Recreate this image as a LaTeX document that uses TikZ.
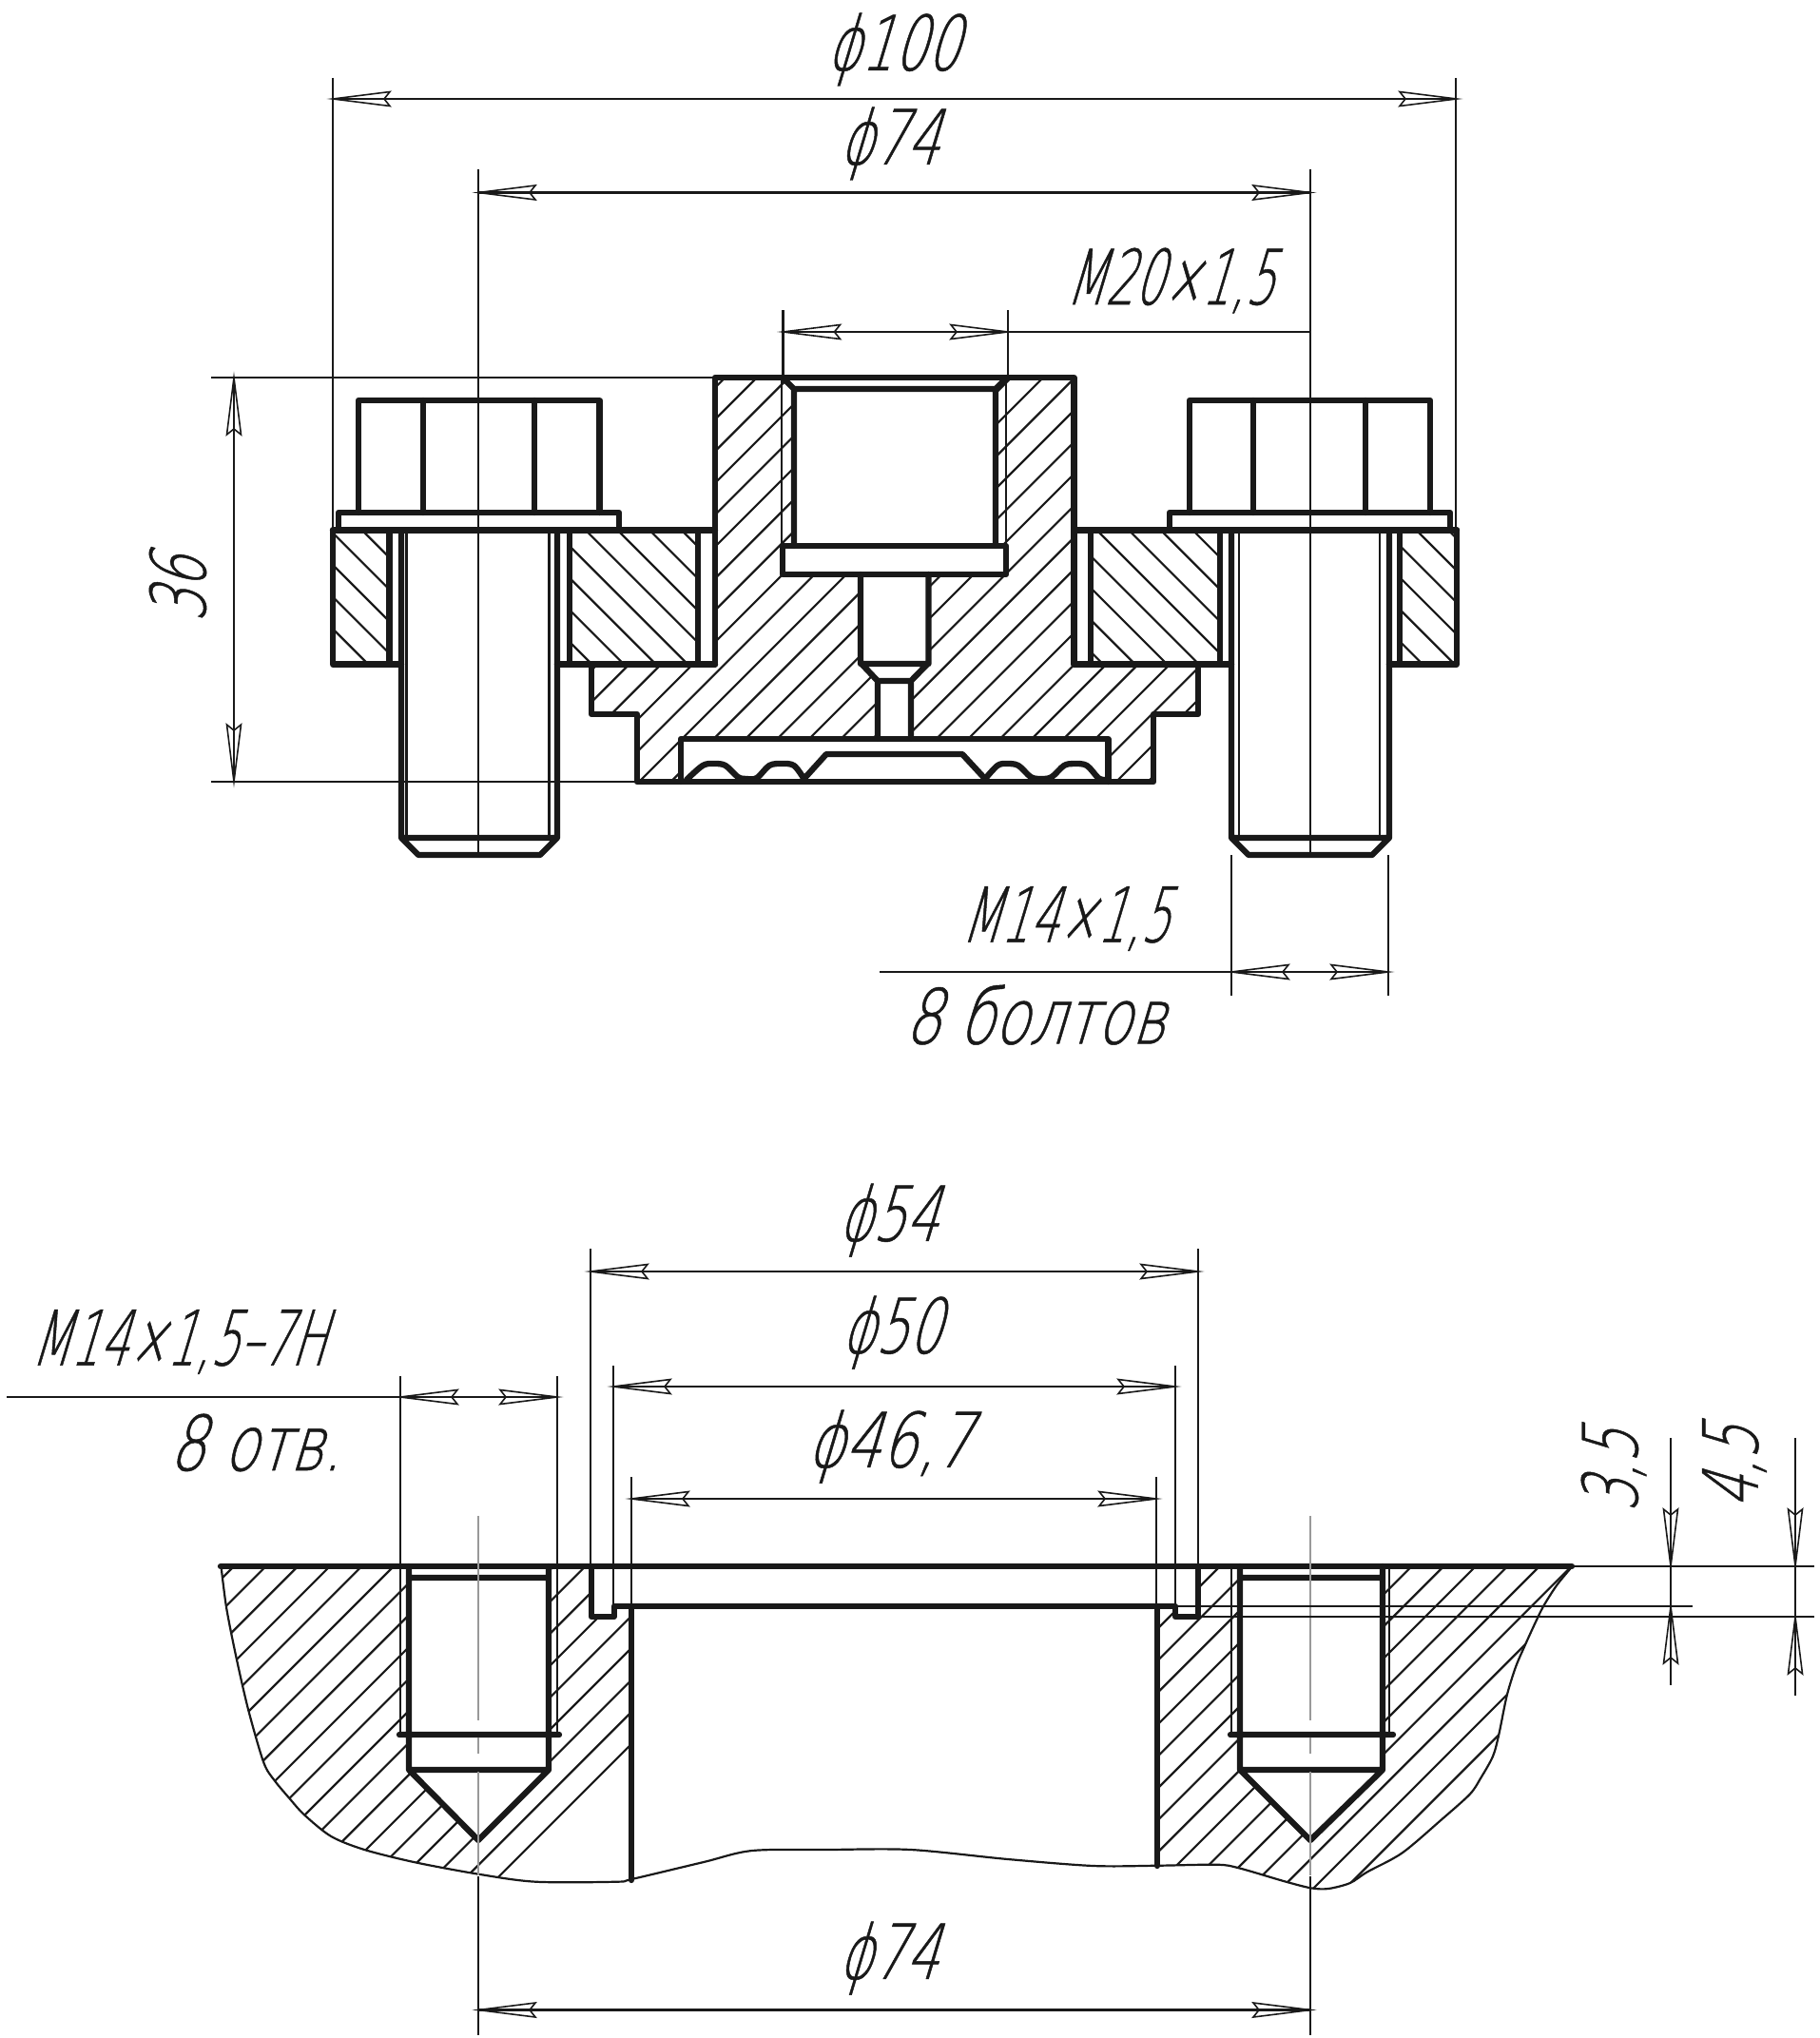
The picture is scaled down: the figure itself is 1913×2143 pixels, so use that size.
\documentclass[tikz,border=0pt]{standalone}
\usepackage{fontspec}
\newfontfamily\gost[FakeSlant=0.3,FakeStretch=0.68,FakeBold=0.6]{DejaVu Sans ExtraLight}
\newfontfamily\gostn[FakeSlant=0.3,FakeStretch=0.6,FakeBold=0.6]{DejaVu Sans ExtraLight}
\newfontfamily\gostw[FakeSlant=0.3,FakeStretch=0.75,FakeBold=0.6]{DejaVu Sans ExtraLight}
\newcommand{\hatchup}[4]{\foreach \k in {#2,...,#3}{\pgfmathsetmacro\cc{#1+#4*\k}\draw[hatchline] (0,\cc) -- (\cc,0);}}
\newcommand{\hatchdown}[3]{\foreach \k in {#2,...,#3}{\pgfmathsetmacro\cc{#1+33.6*\k}\draw[hatchline] (0,\cc) -- (2000,\cc+2000);}}
\newcommand{\dimtip}[3]{\begin{scope}[shift={(#1,#2)},rotate=#3]\draw[tipline] (0,0) -- (60,7.5) -- (54,0) -- (60,-7.5) -- cycle;\end{scope}}
\tikzset{
 bold/.style={line width=6.3pt,line join=round,line cap=round,black!90},
 thinl/.style={line width=2.4pt,black!90},
 hatchline/.style={line width=2.2pt,black!90},
 tipline/.style={line width=1.6pt,black!90,line join=miter},
 axisg/.style={line width=2.2pt,black!40},
 brk/.style={line width=2.2pt,black!90},
 dimtext/.style={font=\gost\fontsize{80}{80}\selectfont,inner sep=0pt,black!90},
 dimtextn/.style={font=\gostn\fontsize{80}{80}\selectfont,inner sep=0pt,black!90},
 dimtextw/.style={font=\gostw\fontsize{80}{80}\selectfont,inner sep=0pt,black!90},
}
\begin{document}
\begin{tikzpicture}[x=1pt,y=-1pt]
\path[use as bounding box] (0,0) rectangle (1913,2143);
% --- upper hatching
\begin{scope}
\clip (752,397)--(823,397)--(835,409)--(835,574)--(823,574)--(823,604)--(905,604)--(905,697)--(923,716)--(923,777)--(716,777)--(716,822)--(670,822)--(670,751)--(622,751)--(622,698.6)--(752,698.6)--cycle
 (1129.5,397)--(1059,397)--(1047,409)--(1047,574)--(1058,574)--(1058,604)--(976.5,604)--(976.5,697)--(958,716)--(958,777)--(1165.5,777)--(1165.5,822)--(1213,822)--(1213,751)--(1260,751)--(1260,698.6)--(1129.5,698.6)--cycle;
\hatchup{1193}{-2}{25}{33.45}
\end{scope}
\begin{scope}
\clip (350,557.5) rectangle (409.6,698.6) (598.7,557.5) rectangle (734,698.6) (1147,557.5) rectangle (1283,698.6) (1472,557.5) rectangle (1532,698.6);
\hatchdown{8.8}{-40}{12}
\end{scope}
% --- upper bold outline
\draw[bold] (752,698.6)--(752,397)--(1129.5,397)--(1129.5,698.6);
\draw[bold] (622,698.6)--(622,751)--(670,751)--(670,822)--(1213,822)--(1213,751)--(1260,751)--(1260,698.6);
\draw[bold] (350,557.5)--(752,557.5) (1129.5,557.5)--(1532,557.5);
\draw[bold] (409.6,557.5)--(409.6,698.6) (598.7,557.5)--(598.7,698.6) (734,557.5)--(734,698.6);
\draw[bold] (1147,557.5)--(1147,698.6) (1283,557.5)--(1283,698.6) (1472,557.5)--(1472,698.6);
\draw[bold] (350,557.5)--(350,698.6)--(422,698.6) (586,698.6)--(752,698.6) (1129.5,698.6)--(1295,698.6) (1461,698.6)--(1532,698.6)--(1532,557.5);
% left bolt
\draw[bold] (422,557.5)--(422,881)--(440,899)--(568,899)--(586,881)--(586,557.5) (422,881)--(586,881);
\draw[thinl] (427.4,557.5)--(427.4,881) (577.5,557.5)--(577.5,881);
\draw[bold] (356,557.5)--(356,539)--(651,539)--(651,557.5) (377,539)--(377,421)--(630.6,421)--(630.6,539) (445,421)--(445,539) (562,421)--(562,539);
% right bolt
\draw[bold] (1295,557.5)--(1295,881)--(1313,899)--(1443,899)--(1461,881)--(1461,557.5) (1295,881)--(1461,881);
\draw[thinl] (1303,557.5)--(1303,881) (1451,557.5)--(1451,881);
\draw[bold] (1230,557.5)--(1230,539)--(1525,539)--(1525,557.5) (1250.7,539)--(1250.7,421)--(1504,421)--(1504,539) (1318,421)--(1318,539) (1436,421)--(1436,539);
% threaded hole
\draw[bold] (823,397)--(835,409)--(835,574) (1059,397)--(1047,409)--(1047,574) (835,409)--(1047,409);
\draw[bold] (823,574) rectangle (1058,604);
\draw[thinl] (822,397)--(822,574) (1058,397)--(1058,574);
\draw[bold] (905,604)--(905,697)--(923,716)--(923,777) (976.5,604)--(976.5,697)--(958,716)--(958,777) (905,698)--(976.5,698) (923,716)--(958,716);
% cavity
\draw[bold] (716,822)--(716,777)--(1165.5,777)--(1165.5,822);
\draw[bold] plot[smooth,tension=.55] coordinates {(722,820)(739,805)(751,803)(763,805)(776,817)(785,819)(796,818)(809,805)(822,803)(835,805)(845.5,819)};
\draw[bold] (845.5,819)--(869,793)--(1012,793)--(1036,819);
\draw[bold] plot[smooth,tension=.55] coordinates {(1036,819)(1049,805)(1059,803)(1071,805)(1084,817)(1095,819)(1106,817)(1119,805)(1130,803)(1143,805)(1155,818)(1162,820)};
% upper thin dimension lines
\draw[thinl] (350,82)--(350,557) (1531,82)--(1531,557) (503,178)--(503,899) (1378,178)--(1378,899);
\draw[thinl] (350,104)--(1532,104) (503,202.5)--(1378,202.5);
\draw[thinl] (823.5,326)--(823.5,397) (1060,326)--(1060,397) (823.5,349)--(1378,349);
\draw[thinl] (222,397)--(752,397) (222,822)--(670,822) (246,397)--(246,822);
\draw[thinl] (1295,899)--(1295,1047) (1460,899)--(1460,1047) (925,1022)--(1460,1022);
\dimtip{350}{104}{0}\dimtip{1532}{104}{180}
\dimtip{503}{202.5}{0}\dimtip{1378}{202.5}{180}
\dimtip{823.5}{349}{0}\dimtip{1060}{349}{180}
\dimtip{246}{397}{-90}\dimtip{246}{822}{90}
\dimtip{1295}{1022}{0}\dimtip{1460}{1022}{180}
% --- lower hatching
\begin{scope}
\clip (232,1647)--(621.7,1647)--(621.7,1700)--(645.7,1700)--(645.7,1689)--(664,1689)--(664,1976)
 -- plot[smooth,tension=.5] coordinates {(664.3,1976)(648.3,1978.7)(563.3,1978.7)(503.3,1970.7)(436.7,1958.3)(383.3,1945)(348.3,1931)(320,1908.3)(305,1891.7)(288.3,1871.7)(277.3,1853.3)(261.7,1800)(249.3,1746.7)(238.3,1691.7)(232.7,1648.3)}--cycle;
\hatchup{1893}{-2}{18}{33.6}
\end{scope}
\begin{scope}
\clip (1260,1647)--(1653,1647)
 -- plot[smooth,tension=.5] coordinates {(1652.4,1648.3)(1637.3,1666.7)(1623.5,1688.3)(1614.4,1706.7)(1603,1731.7)(1593.8,1753.3)(1584.6,1783.3)(1576.4,1823.3)(1570,1846.7)(1557,1870)(1545.7,1886.7)(1516,1913.3)(1474.7,1948.3)(1438,1968.3)(1419.8,1980)(1396.9,1986)(1378.6,1985.3)(1351,1978.3)(1303,1964.3)(1280,1960.7)(1218.3,1961.7)}
 --(1217,1689)--(1236,1689)--(1236,1700)--(1260,1700)--cycle;
\hatchup{2930}{-3}{17}{33.6}
\end{scope}
\fill[white] (430,1647)--(577,1647)--(577,1861)--(503,1935)--(430,1861)--cycle;
\fill[white] (1304,1647)--(1454,1647)--(1454,1861)--(1378,1935)--(1304,1861)--cycle;
% break curves
\draw[brk] plot[smooth,tension=.5] coordinates {(232.7,1648.3)(238.3,1691.7)(249.3,1746.7)(261.7,1800)(277.3,1853.3)(288.3,1871.7)(305,1891.7)(320,1908.3)(348.3,1931)(383.3,1945)(436.7,1958.3)(503.3,1970.7)(563.3,1978.7)(648.3,1978.7)(664.3,1976)(740,1958)(791,1946)(870,1945)(958,1945)(1060,1955)(1150,1962)(1218.3,1961.7)(1280,1960.7)(1303,1964.3)(1351,1978.3)(1378.6,1985.3)(1396.9,1986)(1419.8,1980)(1438,1968.3)(1474.7,1948.3)(1516,1913.3)(1545.7,1886.7)(1557,1870)(1570,1846.7)(1576.4,1823.3)(1584.6,1783.3)(1593.8,1753.3)(1603,1731.7)(1614.4,1706.7)(1623.5,1688.3)(1637.3,1666.7)(1652.4,1648.3)};
% lower bold outline
\draw[bold] (232,1647)--(1653,1647);
\draw[bold] (621.7,1647)--(621.7,1700)--(645.7,1700)--(645.7,1689)--(1236,1689)--(1236,1700)--(1260,1700)--(1260,1647);
\draw[bold] (664,1689)--(664,1977) (1217,1689)--(1217,1962);
\draw[bold] (430,1647)--(430,1861)--(503,1935)--(577,1861)--(577,1647) (430,1659)--(577,1659) (430,1861)--(577,1861) (420,1824)--(588,1824);
\draw[bold] (1304,1647)--(1304,1861)--(1378,1935)--(1454,1861)--(1454,1647) (1304,1659)--(1454,1659) (1304,1861)--(1454,1861) (1294,1824)--(1465,1824);
\draw[thinl] (421,1447)--(421,1824) (586,1447)--(586,1824) (1295,1647)--(1295,1824) (1461,1647)--(1461,1824);
% gray axes
\draw[axisg] (503,1594)--(503,1809) (503,1827)--(503,1844) (503,1863)--(503,1972);
\draw[axisg] (1378,1594)--(1378,1809) (1378,1827)--(1378,1844) (1378,1863)--(1378,1972);
% lower dimension lines
\draw[thinl] (621,1313)--(621,1647) (1260,1313)--(1260,1647) (621,1337)--(1260,1337);
\draw[thinl] (645,1436)--(645,1689) (1236,1436)--(1236,1689) (645,1458)--(1236,1458);
\draw[thinl] (664,1553)--(664,1689) (1216,1553)--(1216,1689) (664,1576)--(1216,1576);
\draw[thinl] (7,1469)--(586,1469);
\draw[thinl] (503,1973)--(503,2140) (1378,1973)--(1378,2140) (503,2113.5)--(1378,2113.5);
\draw[thinl] (1653,1647)--(1908,1647) (1236,1689)--(1780,1689) (1260,1700)--(1908,1700);
\draw[thinl] (1757,1512)--(1757,1772) (1888,1512)--(1888,1783);
\dimtip{621}{1337}{0}\dimtip{1260}{1337}{180}
\dimtip{645}{1458}{0}\dimtip{1236}{1458}{180}
\dimtip{664}{1576}{0}\dimtip{1216}{1576}{180}
\dimtip{421}{1469}{0}\dimtip{586}{1469}{180}
\dimtip{503}{2113.5}{0}\dimtip{1378}{2113.5}{180}
\dimtip{1757}{1647}{90}\dimtip{1757}{1689}{-90}
\dimtip{1888}{1647}{90}\dimtip{1888}{1700}{-90}
% texts
\node[dimtext] (t100) at (939,52) {ϕ100};
\node[dimtext] (t74a) at (935,151) {ϕ74};
\node[dimtextn] (tm20) at (1230,295) {M20×1,5};
\node[dimtext,rotate=90] (t36) at (187,620) {36};
\node[dimtextn] (tm14) at (1120,966) {M14×1,5};
\node[dimtextw] (tb) at (1088,1067) {8 болтов};
\node[dimtext] (t54) at (934,1283) {ϕ54};
\node[dimtext] (t50) at (937,1401) {ϕ50};
\node[dimtextw] (t467) at (935,1521) {ϕ46,7};
\node[dimtextn] (tm14h) at (187,1411) {M14×1,5–7H};
\node[dimtextw] (totv) at (268,1517) {8 отв.};
\node[dimtext] (t74b) at (934,2059) {ϕ74};
\node[dimtext,rotate=90] (t35) at (1697,1547) {3,5};
\node[dimtext,rotate=90] (t45) at (1824,1543) {4,5};
\end{tikzpicture}
\end{document}
